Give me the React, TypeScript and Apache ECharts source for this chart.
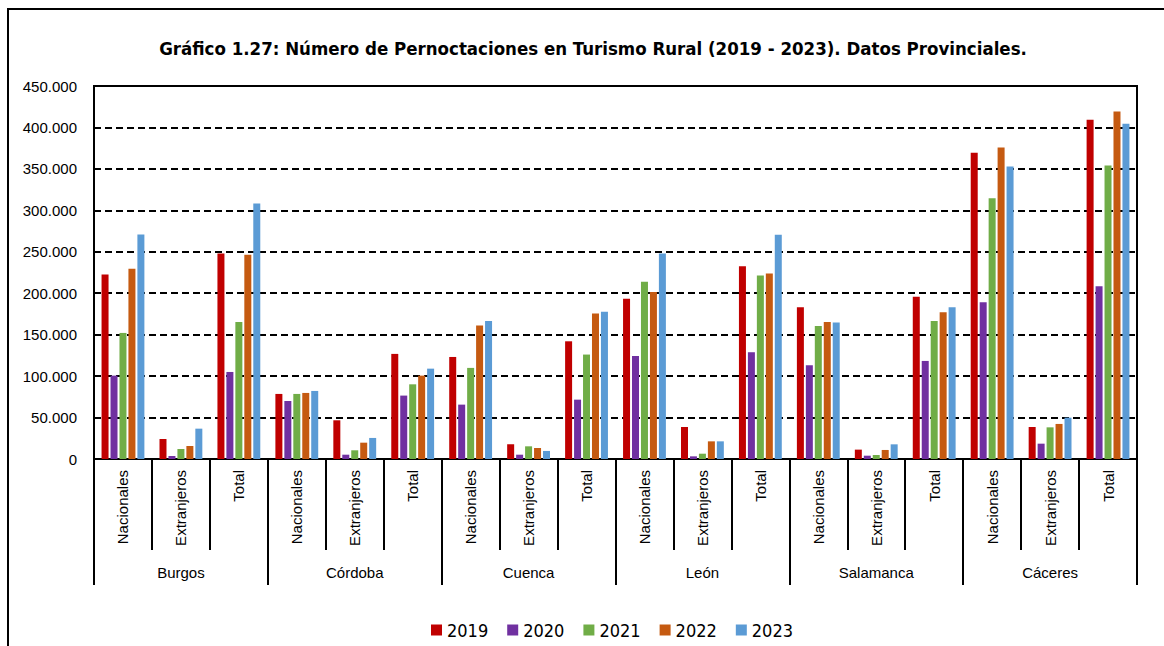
import React, { useEffect, useRef } from "react";
import * as echarts from "echarts";

const provinces = ["Burgos", "Córdoba", "Cuenca", "León", "Salamanca", "Cáceres"];
const subTypes = ["Nacionales", "Extranjeros", "Total"];
const categories = provinces.flatMap(() => subTypes);
const years = ["2019", "2020", "2021", "2022", "2023"];
const colors = ["#C00000", "#7030A0", "#70AD47", "#C55A11", "#5B9BD5"];

const v2019 = [222500, 24100, 247900, 78500, 46700, 126800, 123100, 17700, 142000, 193200, 38600, 232600, 183100, 11300, 195600, 369400, 38600, 409200];
const v2020 = [100600, 3600, 105000, 70000, 5200, 76500, 65600, 5200, 71600, 124300, 3200, 128800, 113100, 4000, 118300, 189100, 18500, 208400];
const v2021 = [152100, 12100, 165400, 78500, 10500, 90100, 109900, 15300, 126000, 213700, 6400, 221300, 160600, 4800, 166600, 314700, 38200, 354100];
const v2022 = [229400, 15700, 246300, 79700, 19700, 100600, 161000, 13300, 175400, 201600, 21300, 223700, 165400, 10900, 177100, 375800, 42300, 419300];
const v2023 = [270800, 36600, 308200, 82100, 25400, 109000, 166600, 9700, 177500, 247900, 21300, 270400, 164600, 17700, 183100, 352900, 49900, 404400];
const seriesValues = [v2019, v2020, v2021, v2022, v2023];

const yMin = 0;
const yMax = 450000;
const yInterval = 50000;

const fmt = (v: number) => String(v).replace(/\B(?=(\d{3})+(?!\d))/g, ".");

export default function App() {
  const ref = useRef<HTMLDivElement>(null);
  useEffect(() => {
    if (!ref.current) return;
    const chart = echarts.init(ref.current, null, { renderer: "svg" });
    chart.setOption({
      animation: false,
      backgroundColor: "#fff",
      title: {
        text: "Gráfico 1.27: Número de Pernoctaciones en Turismo Rural (2019 - 2023). Datos Provinciales.",
        left: 588,
        textAlign: "center",
        top: 34,
        textStyle: { fontFamily: "DejaVu Sans Condensed", fontWeight: "bold", fontSize: 18.5, color: "#000" },
      },
      legend: {
        left: 426,
        top: 616,
        icon: "rect",
        itemWidth: 11,
        itemHeight: 11,
        itemGap: 19,
        textStyle: { fontFamily: "DejaVu Sans Condensed", fontSize: 18, color: "#000" },
        data: years,
      },
      grid: {
        left: 94,
        right: 27,
        top: 86,
        bottom: 187,
        show: true,
        borderColor: "#000",
        borderWidth: 2,
      },
      graphic: [
        {
          type: "rect",
          shape: { x: 8, y: 9, width: 1200, height: 700 },
          style: { fill: "none", stroke: "#000", lineWidth: 2 },
          silent: true,
        },
      ],
      xAxis: [
        {
          type: "category",
          data: categories,
          position: "bottom",
          axisLine: { show: true, lineStyle: { color: "#000", width: 2 } },
          axisTick: { show: true, length: 91, lineStyle: { color: "#000", width: 2 } },
          axisLabel: {
            rotate: 90,
            interval: 0,
            margin: 11,
            fontFamily: "Liberation Sans",
            fontSize: 15,
            color: "#000",
          },
        },
        {
          type: "category",
          data: provinces,
          position: "bottom",
          axisLine: { show: false },
          axisTick: { show: true, length: 126, lineStyle: { color: "#000", width: 2 } },
          axisLabel: {
            interval: 0,
            margin: 106,
            fontFamily: "Liberation Sans",
            fontSize: 15,
            color: "#000",
          },
        },
      ],
      yAxis: {
        type: "value",
        min: yMin,
        max: yMax,
        interval: yInterval,
        axisLine: { show: true, lineStyle: { color: "#000", width: 2 } },
        axisTick: { show: false },
        axisLabel: {
          margin: 17,
          fontFamily: "Liberation Sans",
          fontSize: 15,
          color: "#000",
          formatter: (v: number) => fmt(v),
        },
        splitLine: { show: true, lineStyle: { color: "#000", width: 2, type: [7, 4] } },
      },
      series: years.map((y, i) => ({
        name: y,
        type: "bar",
        xAxisIndex: 0,
        data: seriesValues[i],
        barWidth: 7,
        barGap: "28%",
        itemStyle: { color: colors[i] },
      })),
    });
    return () => chart.dispose();
  }, []);
  return (
    <div
      ref={ref}
      style={{ position: "fixed", left: 0, top: 0, width: 1164, height: 646 }}
    />
  );
}
